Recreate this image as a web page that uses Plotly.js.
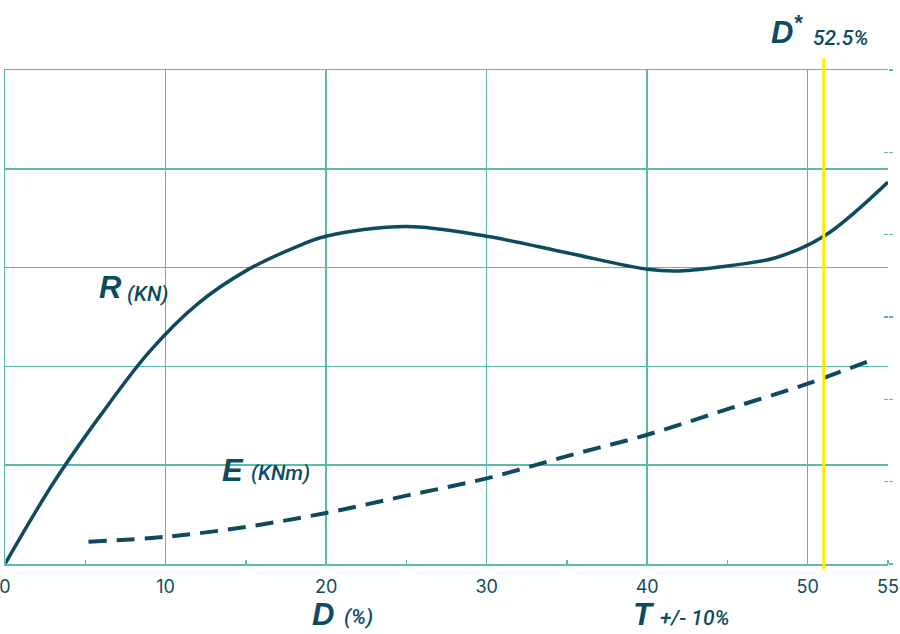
<!DOCTYPE html>
<html>
<head>
<meta charset="utf-8">
<script src="https://cdn.plot.ly/plotly-3.0.1.min.js"></script>
<style>
    html, body { margin: 0; padding: 0; background: #ffffff; }
    #chart { width: 900px; height: 634px; }
</style>
</head>
<body>
<div id="chart"></div>
<script>
// R curve (solid)
var rX = [0, 3, 6, 9, 12, 15, 18, 20, 25, 30, 35, 40, 42, 45, 48, 51, 55];
var rY = [0, 4.9, 9.1, 12.9, 15.8, 17.8, 19.2, 19.9, 20.5, 19.9, 18.9, 17.9, 17.8, 18.1, 18.6, 19.9, 23.2];

// E curve (dashed)
var eX = [5.2, 10, 15, 20, 25, 30, 35, 40, 45, 50, 54];
var eY = [1.35, 1.65, 2.25, 3.1, 4.15, 5.2, 6.55, 7.85, 9.4, 10.95, 12.4];

var xTicks = [0, 10, 20, 30, 40, 50, 55];
var xTickText = ['0', '10', '20', '30', '40', '50', '55'];
var markerX = 51;

var ink = '#0e4b5e';
var grid = '#5cbaa9';

var traces = [
    {
        x: rX, y: rY, type: 'scatter', mode: 'lines',
        line: { color: ink, width: 3.5, shape: 'spline', smoothing: 1 },
        hoverinfo: 'skip'
    },
    {
        x: eX, y: eY, type: 'scatter', mode: 'lines',
        line: { color: ink, width: 4, shape: 'spline', smoothing: 1, dash: '18px,10px' },
        hoverinfo: 'skip'
    }
];

var big = { family: 'Liberation Sans, Arial, sans-serif', size: 31, color: ink, weight: 700, style: 'italic' };
var small = { family: 'Roboto, Liberation Sans, sans-serif', size: 21, color: ink, weight: 500, style: 'italic' };

function label(text, x, y, font, yref) {
    return {
        text: text, x: x, y: y, xref: 'x', yref: yref || 'y',
        xanchor: 'left', yanchor: 'middle', showarrow: false, font: font
    };
}

var layout = {
    width: 900,
    height: 634,
    margin: { l: 5, r: 12, t: 70, b: 70 },
    paper_bgcolor: '#ffffff',
    plot_bgcolor: '#ffffff',
    showlegend: false,
    xaxis: {
        range: [0, 55],
        tickvals: xTicks,
        ticktext: xTickText,
        ticks: '',
        ticklabelstandoff: 6,
        ticklabeloverflow: 'allow',
        showgrid: true,
        gridcolor: grid,
        gridwidth: 1.5,
        zeroline: false,
        showline: true,
        linecolor: grid,
        linewidth: 1.5,
        mirror: true,
        tickfont: { family: 'Inter, sans-serif', size: 18, color: ink },
        minor: { dtick: 5, ticks: 'inside', ticklen: 4, tickcolor: grid, tickwidth: 1.5, showgrid: false }
    },
    yaxis: {
        range: [0, 30],
        dtick: 6,
        showticklabels: false,
        ticks: '',
        showgrid: true,
        gridcolor: grid,
        gridwidth: 1.5,
        zeroline: false,
        showline: true,
        linecolor: grid,
        linewidth: 1.5
    },
    yaxis2: {
        overlaying: 'y',
        side: 'right',
        range: [0, 30],
        dtick: 5,
        showticklabels: false,
        showgrid: false,
        zeroline: false,
        ticks: 'inside',
        ticklen: 4,
        tickwidth: 1.5,
        tickcolor: grid
    },
    yaxis3: {
        overlaying: 'y',
        side: 'right',
        range: [0, 30],
        dtick: 5,
        showticklabels: false,
        showgrid: false,
        zeroline: false,
        ticks: 'outside',
        ticklen: 4,
        tickwidth: 1.5,
        tickcolor: grid
    },
    shapes: [
        {
            type: 'line', xref: 'x', yref: 'paper',
            x0: markerX, x1: markerX, y0: -0.01, y1: 1.024,
            line: { color: '#ffee00', width: 3 }
        }
    ],
    annotations: [
        label('R', 5.7, 16.8, big),
        label('(KN)', 7.5, 16.4, small),
        label('E', 13.4, 5.7, big),
        label('(KNm)', 15.2, 5.5, small),
        label('D', 19.0, -0.102, big, 'paper'),
        label('(%)', 21.0, -0.107, small, 'paper'),
        label('T', 39.0, -0.102, big, 'paper'),
        label('+/- 10%', 40.7, -0.11, small, 'paper'),
        label('D<sup>*</sup>', 47.6, 1.081, big, 'paper'),
        label('52.5%', 50.2, 1.065, small, 'paper')
    ]
};

// empty traces so the right-side tick axes get drawn
traces.push({ x: [0], y: [0], yaxis: 'y2', mode: 'none', hoverinfo: 'skip' });
traces.push({ x: [0], y: [0], yaxis: 'y3', mode: 'none', hoverinfo: 'skip' });

Plotly.newPlot('chart', traces, layout, { displayModeBar: false, staticPlot: true });
</script>
</body>
</html>
